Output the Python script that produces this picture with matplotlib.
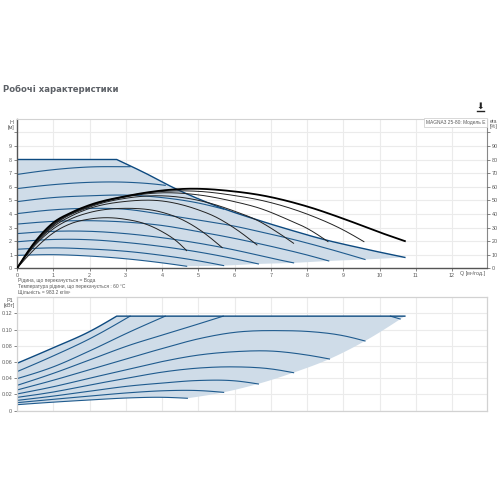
import numpy as np
import matplotlib
matplotlib.use("Agg")
import matplotlib.pyplot as plt
from matplotlib.lines import Line2D

W, H = 500, 500

TITLE = "Робочі характеристики"
MODEL = "MAGNA3 25-80: Модель E"
NOTES = ["Рідина, що перекачується = Вода",
         "Температура рідини, що перекачується : 60 °C",
         "Щільність = 983.2 кг/м³"]

# Head curves (Q, H)
env_q = [0, 2.75, 3.5, 4.4, 5.5, 6.7, 7.5, 8.45, 9.5, 10.7]
env_h = [8, 8, 7.05, 5.82, 4.58, 3.5, 2.85, 2.13, 1.48, 0.8]
h2_q = [0, 1, 2, 3, 3.12];            h2_h = [6.9, 7.25, 7.45, 7.47, 7.47]
h3_q = [0, 1, 2, 3, 4, 4.09];         h3_h = [5.86, 6.15, 6.32, 6.33, 6.13, 6.1]
h4_q = [0, 1, 2, 3, 4, 5, 5.7];       h4_h = [4.9, 5.2, 5.33, 5.38, 5.2, 4.8, 4.35]
h5_q = [0, 1, 2, 3, 4, 5, 6, 6.7, 7.5, 8.5, 9.6]
h5_h = [4.02, 4.3, 4.41, 4.34, 3.97, 3.55, 3.1, 2.69, 2.2, 1.5, 0.65]
h6_q = [0, 1, 2, 3, 4, 5, 6, 7, 8, 8.6]
h6_h = [3.25, 3.45, 3.5, 3.4, 3.15, 2.7, 2.2, 1.62, 0.98, 0.54]
h7_q = [0, 1, 2, 3, 4, 5, 6, 7, 7.63]
h7_h = [2.55, 2.72, 2.72, 2.55, 2.25, 1.85, 1.35, 0.75, 0.4]
h8_q = [0, 1, 2, 3, 4, 5, 6, 6.66]
h8_h = [1.95, 2.12, 2.1, 1.9, 1.6, 1.2, 0.7, 0.32]
h9_q = [0, 1, 2, 3, 4, 5, 5.7]
h9_h = [1.4, 1.5, 1.42, 1.25, 0.95, 0.55, 0.2]
h10_q = [0, 1, 2, 3, 4, 4.68]
h10_h = [0.95, 1.0, 0.9, 0.7, 0.4, 0.15]

# Lower edge of the duty area (Q, H)
low_q = [4.68, 5.7, 6.66, 7.63, 8.6, 9.6, 10.7]
low_h = [0.15, 0.2, 0.32, 0.4, 0.54, 0.65, 0.8]

# Efficiency curves (Q, eta as read on the H grid)
e1_q = [0, .5, 1, 1.5, 2, 2.5, 3, 3.5, 4, 4.4, 4.68]
e1_h = [0, 1.45, 2.6, 3.3, 3.62, 3.72, 3.6, 3.3, 2.7, 2.0, 1.3]
e2_q = [0, .5, 1, 1.5, 2, 3, 4, 4.5, 5, 5.66]
e2_h = [0, 1.7, 2.9, 3.65, 4.1, 4.41, 4.12, 3.65, 2.9, 1.52]
e3_q = [0, .5, 1, 1.5, 2, 3, 4, 5, 5.5, 6, 6.62]
e3_h = [0, 1.8, 3.05, 3.85, 4.4, 4.92, 4.95, 4.3, 3.75, 2.95, 1.72]
e4_q = [0, .5, 1, 2, 3, 4, 5, 6, 6.7, 7.16, 7.63]
e4_h = [0, 1.85, 3.15, 4.5, 5.15, 5.33, 5.0, 4.2, 3.43, 2.69, 1.84]
e5_q = [0, .5, 1, 2, 3, 4, 5, 6, 6.7, 7.5, 8, 8.58]
e5_h = [0, 1.88, 3.2, 4.55, 5.25, 5.55, 5.4, 4.9, 4.41, 3.55, 2.94, 1.96]
e6_q = [0, .5, 1, 2, 3, 4, 5, 6, 6.7, 8, 9, 9.57]
e6_h = [0, 1.92, 3.25, 4.6, 5.3, 5.65, 5.66, 5.35, 5.02, 3.99, 2.82, 1.96]
e7_q = [0, .5, 1, 1.5, 2, 3, 4, 4.77, 6, 6.7, 8, 9, 10, 10.7]
e7_h = [0, 1.96, 3.35, 4.1, 4.65, 5.3, 5.72, 5.85, 5.65, 5.39, 4.55, 3.65, 2.65, 2.0]

# Power curves (Q, P1)
p1_q = [0, 1, 2, 2.75, 10.7];         p1_p = [.0584, .0775, .0975, .1165, .1165]
p2_q = [0, 1, 2, 3.12];               p2_p = [.0481, .0675, .0885, .1165]
p3_q = [0, 1, 2, 3.12, 4.09];         p3_p = [.0395, .054, .0736, .0973, .1165]
p4_q = [0, 1, 2, 3.12, 4, 5, 5.69];   p4_p = [.0312, .046, .0625, .0809, .0931, .1068, .1165]
p4b_q = [10.3, 10.57];                p4b_p = [.1165, .1130]
p5_q = [0, 1, 2, 3.12, 4, 5, 6, 7.35, 8, 9, 9.6]
p5_p = [.0255, .0375, .0505, .0653, .0765, .0885, .0965, .0986, .0977, .0924, .0859]
p6_q = [0, 1, 2, 3.12, 4, 5, 6, 7, 8, 8.62]
p6_p = [.0206, .0295, .04, .0515, .0605, .0685, .0727, .0735, .0686, .0637]
p7_q = [0, 1, 2, 3.12, 4, 5, 6, 7, 7.63]
p7_p = [.0164, .023, .0316, .0407, .0475, .0525, .054, .0515, .0468]
p8_q = [0, 1, 2, 3.12, 4, 5, 6, 6.66]
p8_p = [.0127, .018, .024, .0305, .034, .0372, .0368, .0329]
p9_q = [0, 1, 2, 3.12, 4, 5, 5.7]
p9_p = [.0099, .014, .018, .0222, .0245, .0248, .0226]
p10_q = [0, 1, 2, 3.12, 4, 4.7]
p10_p = [.0074, .0105, .0132, .0158, .0165, .0153]
plow_q = [4.7, 5.69, 6.64, 7.62, 8.62, 9.6, 10.7]
plow_p = [.0153, .0226, .0329, .0468, .0637, .0859, .1165]

head_curves = [(h2_q, h2_h), (h3_q, h3_h), (h4_q, h4_h), (h5_q, h5_h), (h6_q, h6_h),
               (h7_q, h7_h), (h8_q, h8_h), (h9_q, h9_h), (h10_q, h10_h)]
eff_curves = [(e1_q, e1_h), (e2_q, e2_h), (e3_q, e3_h), (e4_q, e4_h),
              (e5_q, e5_h), (e6_q, e6_h)]
power_curves = [(p2_q, p2_p), (p3_q, p3_p), (p4_q, p4_p), (p4b_q, p4b_p), (p5_q, p5_p),
                (p6_q, p6_p), (p7_q, p7_p), (p8_q, p8_p), (p9_q, p9_p), (p10_q, p10_p)]

x_ticks = list(range(0, 13))
eta_ticks = list(range(0, 100, 10))
p_ticks = [0, .02, .04, .06, .08, .10, .12]
p_labels = ["0", "0.02", "0.04", "0.06", "0.08", "0.10", "0.12"]

FILL = "#cfdce8"
BLUE = "#1f5b8e"
DARK = "#0d4a80"
GRID = "#ebebeb"
EDGE = "#d2d2d2"
AXIS = "#555555"
TXT = "#5a5a5a"
FS = 3.9
FS_NOTE = 3.5


def smooth(q, v, n=16):
    """Cubic Hermite line through the read points, with tangents for uneven spacing."""
    q, v = np.asarray(q, float), np.asarray(v, float)
    if len(q) < 3:
        return q, v
    dq = np.diff(q)
    s = np.diff(v) / dq
    m = np.empty_like(q)
    m[1:-1] = (s[:-1] * dq[1:] + s[1:] * dq[:-1]) / (dq[:-1] + dq[1:])
    m[0] = 1.5 * s[0] - 0.5 * m[1]
    m[-1] = 1.5 * s[-1] - 0.5 * m[-2]
    xs, ys = [], []
    for i in range(len(q) - 1):
        t = np.linspace(0, 1, n, endpoint=False)
        h00 = 2 * t**3 - 3 * t**2 + 1
        h10 = t**3 - 2 * t**2 + t
        h01 = -2 * t**3 + 3 * t**2
        h11 = t**3 - t**2
        xs.append(q[i] + t * dq[i])
        ys.append(h00 * v[i] + h10 * dq[i] * m[i] + h01 * v[i + 1] + h11 * dq[i] * m[i + 1])
    return np.r_[np.concatenate(xs), q[-1]], np.r_[np.concatenate(ys), v[-1]]


def axes_px(l, t, r, b):
    return fig.add_axes([l / W, 1 - b / H, (r - l) / W, (b - t) / H])


plt.rcParams["font.family"] = ["Liberation Sans", "DejaVu Sans"]
fig = plt.figure(figsize=(W / 100, H / 100), dpi=100, facecolor="white")

L, R = 17, 486.7
xmax = (R - L) / 36.25

# ---------- head panel
ax = axes_px(L, 119.3, R, 268.3)
ax.set_xlim(0, xmax)
ax.set_ylim(0, (268.3 - 119.3) / 13.6)
ax.set_xticks(x_ticks)
ax.set_yticks(list(range(0, 11)))
ax.set_yticklabels([str(v) if v < 10 else "" for v in range(0, 11)])
ax.grid(True, color=GRID, lw=0.8)
ax.set_axisbelow(True)
ax.tick_params(axis="both", labelsize=FS, labelcolor=TXT, length=2, width=0.5,
               color=AXIS, pad=1.5)
for s, c, w in (("left", AXIS, 1), ("bottom", AXIS, 1), ("top", EDGE, .8), ("right", "#888888", .8)):
    ax.spines[s].set_color(c)
    ax.spines[s].set_linewidth(w)

eq, eh = smooth(env_q[1:], env_h[1:])
top_q = np.r_[env_q[0], eq]
top_h = np.r_[env_h[0], eh]
bq, bh = smooth(h10_q, h10_h)
lq, lh = smooth(low_q, low_h)
ax.fill(np.r_[top_q, lq[::-1], bq[::-1]], np.r_[top_h, lh[::-1], bh[::-1]],
        color=FILL, lw=0, zorder=1.5)
for q, v in head_curves:
    ax.plot(*smooth(q, v), color=BLUE, lw=0.8, zorder=2)
ax.plot(top_q, top_h, color=DARK, lw=1.0, zorder=2.2)
for q, v in eff_curves:
    ax.plot(*smooth(q, v), color="#222222", lw=0.7, zorder=3)
ax.plot(*smooth(e7_q, e7_h), color="black", lw=1.3, zorder=3.2)

ax2 = ax.twinx()
ax2.set_ylim(0, ax.get_ylim()[1] * 10)
ax2.set_yticks(eta_ticks + [100])
ax2.set_yticklabels([str(v) for v in eta_ticks] + [""])
ax2.tick_params(axis="y", labelsize=FS, labelcolor=TXT, length=2, width=0.5, color=AXIS, pad=1.5)
for s in ax2.spines.values():
    s.set_visible(False)

fig.text(11.5 / W, 1 - 119.5 / H, "H\n[м]", fontsize=FS, color=TXT, ha="center", va="top", linespacing=1.0)
fig.text(493.5 / W, 1 - 119 / H, "eta\n[%]", fontsize=FS, color=TXT, ha="center", va="top", linespacing=1.0)
fig.text(485 / W, 1 - 273 / H, "Q [м³/год.]", fontsize=FS, color=TXT, ha="right", va="center")
fig.text(485 / W, 1 - 122.5 / H, MODEL, fontsize=FS_NOTE, color=TXT, ha="right", va="center",
         bbox=dict(boxstyle="square,pad=0.35", fc="white", ec=EDGE, lw=0.6), zorder=10)

for i, line in enumerate(NOTES):
    fig.text(18 / W, 1 - (280.3 + i * 6.2) / H, line, fontsize=FS_NOTE, color=TXT, ha="left", va="center")

# ---------- power panel
bx = axes_px(L, 297.3, R, 410.7)
bx.set_xlim(0, xmax)
bx.set_ylim(0, (410.7 - 297.3) / 811.7)
bx.set_xticks(x_ticks)
bx.set_xticklabels([])
bx.set_yticks(p_ticks)
bx.set_yticklabels(p_labels)
bx.grid(True, color=GRID, lw=0.8)
bx.set_axisbelow(True)
bx.tick_params(axis="y", labelsize=FS, labelcolor=TXT, length=2, width=0.5, color=AXIS, pad=1.5)
bx.tick_params(axis="x", length=0)
for s in bx.spines.values():
    s.set_color(EDGE)
    s.set_linewidth(0.9)

sq, sp = smooth(p1_q[:4], p1_p[:4])
p_top_q = np.r_[sq, p1_q[4]]
p_top_p = np.r_[sp, p1_p[4]]
pbq, pbp = smooth(p10_q, p10_p)
plq, plp = smooth(plow_q, plow_p)
bx.fill(np.r_[p_top_q, plq[::-1], pbq[::-1]], np.r_[p_top_p, plp[::-1], pbp[::-1]],
        color=FILL, lw=0, zorder=1.5)
for q, v in power_curves:
    bx.plot(*smooth(q, v), color=BLUE, lw=0.8, zorder=2)
bx.plot(p_top_q, p_top_p, color=DARK, lw=1.0, zorder=2.2)

fig.text(9.5 / W, 1 - 297.5 / H, "P1\n[кВт]", fontsize=FS, color=TXT, ha="center", va="top", linespacing=1.1)

# ---------- title and download icon
fig.text(3 / W, 1 - 89.5 / H, TITLE, fontsize=6.15, fontweight="bold", color="#5c6066", ha="left", va="center",
         family=["DejaVu Sans"])
fig.text(480 / W, 1 - 106.5 / H, "⬇", fontsize=6.5, color="#222222", ha="center", va="center",
         family=["DejaVu Sans"])
fig.add_artist(Line2D([476.5 / W, 483.5 / W], [1 - 111 / H, 1 - 111 / H], color="#222222", lw=1.0))

fig.savefig("out.png", dpi=100, facecolor="white")
